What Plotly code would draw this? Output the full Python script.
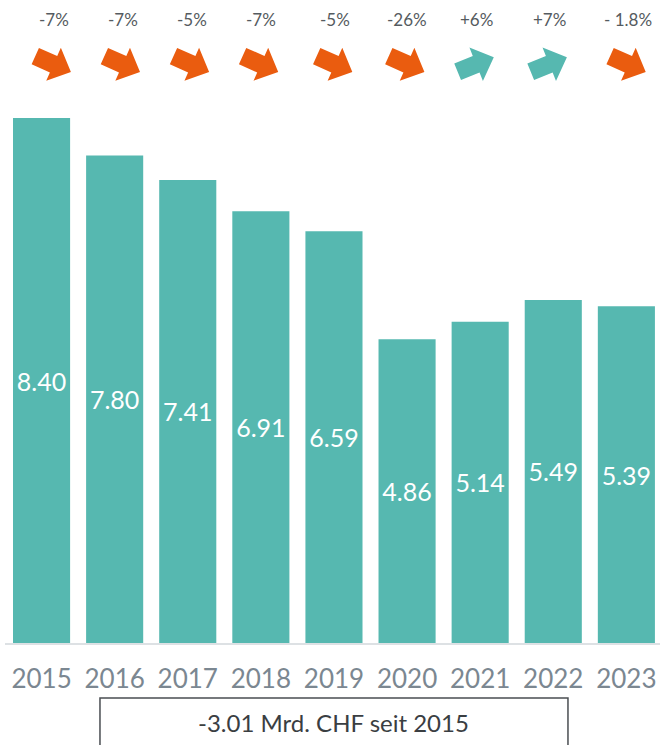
import math
import plotly.graph_objects as go

years = ["2015", "2016", "2017", "2018", "2019", "2020", "2021", "2022", "2023"]
values = [8.40, 7.80, 7.41, 6.91, 6.59, 4.86, 5.14, 5.49, 5.39]
change_labels = ["-7%", "-7%", "-5%", "-7%", "-5%", "-26%", "+6%", "+7%", "- 1.8%"]
summary_text = "-3.01 Mrd. CHF seit 2015"

TEAL = "#56b8b0"
ORANGE = "#ea5c0f"
FONT = "Lato"

# pixel offsets of arrow/label groups relative to bar centres (style only)
x_shifts = [12, 8, 4, 0, 1, 0, -4, -4, 2]

fig = go.Figure()
fig.add_trace(go.Bar(
    x=list(range(len(years))), y=values,
    marker=dict(color=TEAL, line=dict(width=0)),
    text=[f"{v:.2f}" for v in values],
    textposition="inside", insidetextanchor="middle",
    textangle=0, constraintext="none",
    textfont=dict(family=FONT, size=25, color="white"),
    hoverinfo="skip",
))

def arrow_path(angle_deg, dx):
    pts = [(-20, 9), (0, 9), (0, 18), (19, 0), (0, -18), (0, -9), (-20, -9)]
    a = math.radians(angle_deg)
    out = []
    for x, y in pts:
        xr = x * math.cos(a) - y * math.sin(a) + dx
        yr = x * math.sin(a) + y * math.cos(a)
        out.append(f"{xr:.2f},{yr:.2f}")
    return "M " + " L ".join(out) + " Z"

shapes = []
annotations = []
for i, lab in enumerate(change_labels):
    up = lab.strip().startswith("+")
    shapes.append(dict(
        type="path", xref="x", yref="paper",
        xsizemode="pixel", ysizemode="pixel",
        xanchor=i, yanchor=0.926,
        path=arrow_path(22 if up else -24, x_shifts[i]),
        fillcolor=TEAL if up else ORANGE, line=dict(width=0),
    ))
    annotations.append(dict(
        x=i, y=0.9968, xref="x", yref="paper", text=lab, showarrow=False,
        xanchor="center", yanchor="middle",
        xshift=x_shifts[i], font=dict(family=FONT, size=17, color="#555b60"),
    ))

shapes.append(dict(
    type="rect", xref="paper", yref="paper",
    x0=0.145, x1=0.8595, y0=-0.19, y1=-0.088,
    line=dict(color="#4a4e52", width=1.5), fillcolor="rgba(0,0,0,0)",
))
annotations.append(dict(
    x=0.502, y=-0.1264, xref="paper", yref="paper", text=summary_text,
    showarrow=False, xanchor="center", yanchor="middle",
    font=dict(family=FONT, size=24, color="#3a3e42"),
))

fig.update_layout(
    width=660, height=745,
    margin=dict(l=5, r=0, t=18, b=102),
    paper_bgcolor="white", plot_bgcolor="white",
    bargap=0.219, showlegend=False,
    shapes=shapes, annotations=annotations,
    xaxis=dict(
        tickmode="array", tickvals=list(range(len(years))), ticktext=years,
        range=[-0.5, len(years) - 0.54],
        showgrid=False, zeroline=False, showline=True,
        linecolor="#dde1e4", linewidth=1.5, ticks="",
        tickfont=dict(family=FONT, size=26, color="#7b8791"),
        ticklabelstandoff=12,
    ),
    yaxis=dict(range=[0, 10], visible=False, showgrid=False),
)

fig.write_html(
    "out.html",
    config={"displayModeBar": False},
    post_script="document.body.style.margin='0';document.body.style.overflow='hidden';",
)
